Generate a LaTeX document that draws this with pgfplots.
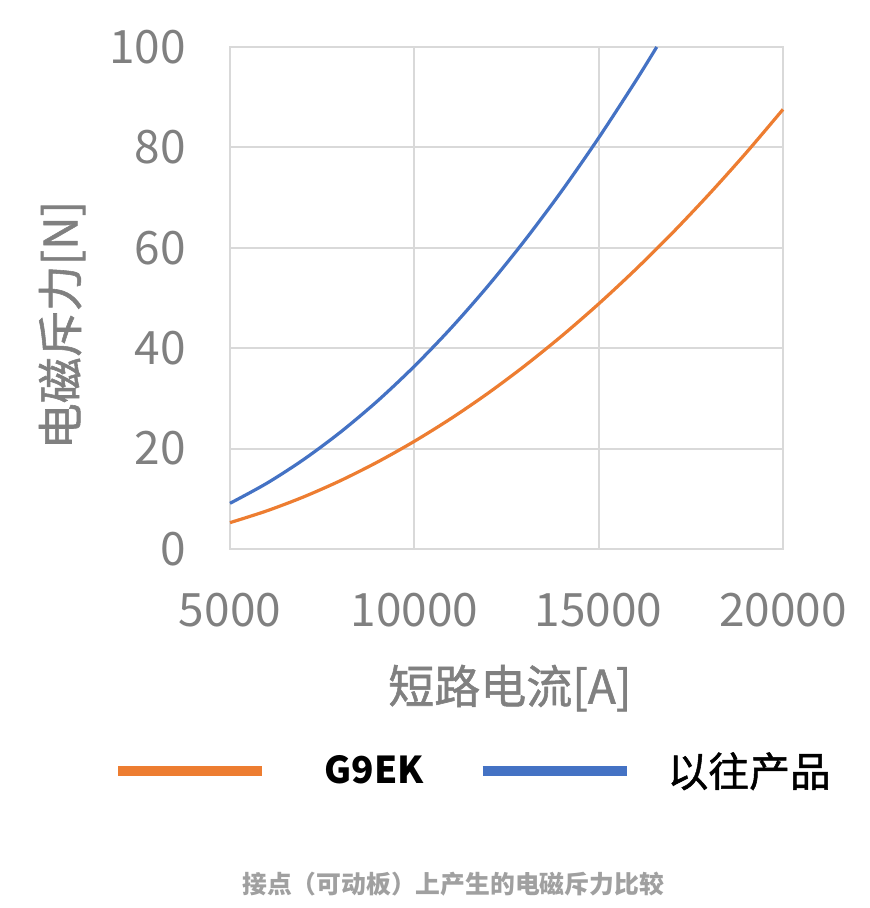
\documentclass[border=0pt]{standalone}
\usepackage{fontspec}
\setmainfont{Noto Sans CJK SC}
\newfontfamily\cjkfb[FakeBold=1.2]{Noto Sans CJK SC}
\usepackage{pgfplots}
\pgfplotsset{compat=1.18}
\definecolor{gOrange}{HTML}{ED7D31}
\definecolor{gBlue}{HTML}{4472C4}
\definecolor{gridc}{HTML}{D9D9D9}
\definecolor{txtc}{HTML}{808080}
\definecolor{ttlc}{HTML}{A0A0A0}
\begin{document}
\begin{tikzpicture}
\useasboundingbox (0,0) rectangle (434.5pt,454pt);
\begin{axis}[
  at={(115pt,179.5pt)}, anchor=south west,
  scale only axis, width=276.5pt, height=251pt,
  xmin=5000, xmax=20000, ymin=0, ymax=100,
  xtick={5000,10000,15000,20000}, ytick={0,20,40,60,80,100},
  grid=major, grid style={gridc, line width=1pt},
  axis line style={gridc, line width=1pt},
  major tick length=0pt,
  scaled x ticks=false,
  /pgf/number format/assume math mode=true,
  /pgf/number format/1000 sep={},
  tick label style={font=\fontsize{23}{23}\selectfont, text=txtc, inner sep=0pt},
  yticklabel style={xshift=-22pt},
  xticklabel style={yshift=-22pt},
  xlabel={短路电流[A]},
  ylabel={电磁斥力[N]},
  label style={font=\fontsize{23}{23}\selectfont\cjkfb, text=txtc},
  xlabel style={at={(rel axis cs:0.506,-0.277)}, anchor=center},
  ylabel style={at={(rel axis cs:-0.3038,0.446)}, anchor=center},
  legend columns=2,
  legend image code/.code={\draw[#1, line width=5pt] (0pt,0pt) -- (72pt,0pt);},
  legend style={at={(rel axis cs:-0.2115,-0.4422)}, anchor=west, draw=none, fill=none,
    inner sep=0pt, column sep=0pt, nodes={inner sep=0pt, text=black}},
  clip=false,
]
\addplot[gOrange, line width=1.6pt, smooth] coordinates {
(5000,5.25) (6000,7.60) (7000,10.39) (8000,13.63) (9000,17.32) (10000,21.45)
(11000,26.02) (12000,31.04) (13000,36.52) (14000,42.45) (15000,48.83)
(16000,55.67) (17000,62.96) (18000,70.72) (19000,78.92) (20000,87.57)};
\addlegendentry{\rule{28.5pt}{0pt}{\fontsize{18.5}{18.5}\selectfont\bfseries G9EK}\rule{27pt}{0pt}}
\addplot[gBlue, line width=1.6pt, smooth] coordinates {
(5000,9.10) (6000,13.10) (7000,17.84) (8000,23.30) (9000,29.48) (10000,36.40)
(11000,44.04) (12000,52.42) (13000,61.52) (14000,71.34) (15000,81.90)
(16000,93.18) (16575,100.0)};
\addlegendentry{\rule{18pt}{0pt}{\fontsize{20.4}{20.4}\selectfont\cjkfb 以往产品}}
\node[font=\fontsize{12.4}{12.4}\selectfont\bfseries, text=ttlc] at (rel axis cs:0.4033,-0.6673) {接点（可动板）上产生的电磁斥力比较};
\end{axis}
\end{tikzpicture}
\end{document}
